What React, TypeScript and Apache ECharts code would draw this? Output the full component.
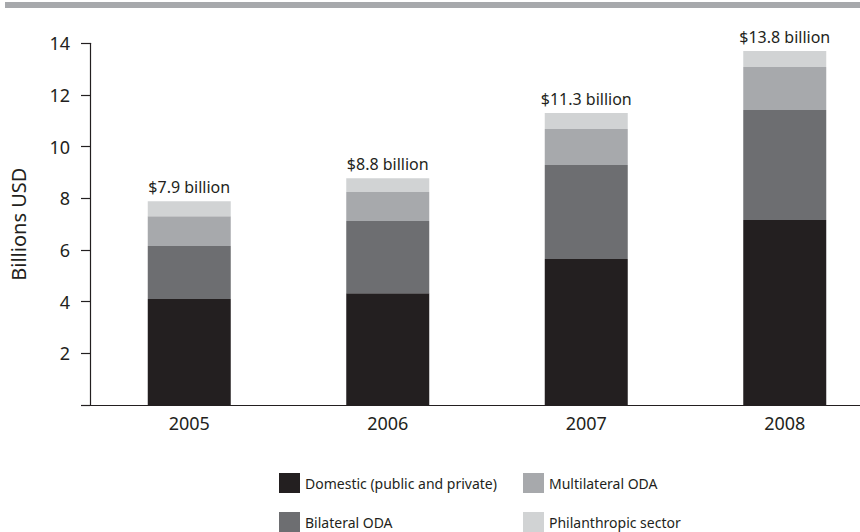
import React, { useEffect, useRef } from "react";
import * as echarts from "echarts";

const years = ["2005", "2006", "2007", "2008"];
const domestic = [4.1, 4.33, 5.65, 7.16];
const bilateral = [2.05, 2.79, 3.64, 4.26];
const multilateral = [1.16, 1.12, 1.39, 1.66];
const philanthropic = [0.58, 0.54, 0.62, 0.62];
const totalLabels = ["$7.9 billion", "$8.8 billion", "$11.3 billion", "$13.8 billion"];
const seriesNames = [
  "Domestic (public and private)",
  "Bilateral ODA",
  "Multilateral ODA",
  "Philanthropic sector",
];
const colors = ["#231f20", "#6d6e71", "#a7a9ac", "#d1d3d4"];

const FONT = "Noto Sans";
const TEXT = "#231f20";

export default function App() {
  const ref = useRef<HTMLDivElement>(null);
  useEffect(() => {
    document.body.style.margin = "0";
    if (!ref.current) return;
    const chart = echarts.init(ref.current, undefined, { renderer: "svg" });
    const data = [domestic, bilateral, multilateral, philanthropic];
    const legendPos = [
      { left: 279, top: 473 },
      { left: 279, top: 512 },
      { left: 523, top: 473 },
      { left: 523, top: 512 },
    ];
    chart.setOption({
      animation: false,
      textStyle: { fontFamily: FONT, color: TEXT },
      grid: { left: 87, top: 43.3, bottom: 127, right: 0 },
      graphic: [
        {
          type: "rect",
          shape: { x: 5, y: 2, width: 855, height: 6 },
          style: { fill: "#a7a9ac" },
          silent: true,
        },
      ],
      legend: seriesNames.map((n, i) => ({
        data: [n],
        left: legendPos[i].left,
        top: legendPos[i].top,
        padding: 0,
        icon: "rect",
        itemWidth: 21,
        itemHeight: 20,
        selectedMode: false,
        textStyle: { fontFamily: FONT, fontSize: 14, color: TEXT },
      })),
      xAxis: {
        type: "category",
        data: years,
        axisLine: { lineStyle: { color: TEXT, width: 1.2 } },
        axisTick: { show: false },
        axisLabel: { fontFamily: FONT, fontSize: 18, color: TEXT, margin: 9 },
      },
      yAxis: {
        type: "value",
        min: 0,
        max: 14,
        interval: 2,
        name: "Billions USD",
        nameLocation: "middle",
        nameGap: 62,
        nameTextStyle: { fontFamily: FONT, fontSize: 20, color: TEXT },
        axisLine: { show: true, lineStyle: { color: TEXT, width: 1.2 } },
        axisTick: { show: true, length: 9, lineStyle: { color: TEXT, width: 1.2 } },
        splitLine: { show: false },
        axisLabel: {
          fontFamily: FONT,
          fontSize: 18,
          color: TEXT,
          margin: 20,
          formatter: (v: number) => (v === 0 ? "" : String(v)),
        },
      },
      series: data.map((d, i) => ({
        name: seriesNames[i],
        type: "bar",
        stack: "total",
        barWidth: 83,
        data: d,
        itemStyle: { color: colors[i] },
        label:
          i === 3
            ? {
                show: true,
                position: "top",
                distance: 6,
                fontFamily: FONT,
                fontSize: 16,
                color: TEXT,
                formatter: (p: any) => totalLabels[p.dataIndex],
              }
            : { show: false },
      })),
    });
    return () => chart.dispose();
  }, []);
  return (
    <div style={{ width: 860, height: 532, overflow: "hidden", position: "relative" }}>
      <div ref={ref} style={{ width: 884, height: 532 }} />
    </div>
  );
}
